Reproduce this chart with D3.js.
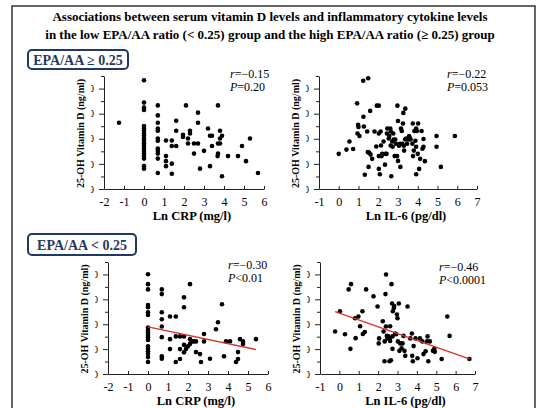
<!DOCTYPE html>
<html>
<head>
<meta charset="utf-8">
<script src="https://cdnjs.cloudflare.com/ajax/libs/d3/7.8.5/d3.min.js"></script>
<style>
    body { margin: 0; background: #fff; }
    svg { display: block; font-family: "Liberation Serif", "Times New Roman", serif; }
</style>
</head>
<body>
<div id="chart"></div>
<script>
// chart texts
const titleLines = [
    "Associations between serum vitamin D levels and inflammatory cytokine levels",
    "in the low EPA/AA ratio (< 0.25) group and the high EPA/AA ratio (\u2265 0.25) group"
];
const groupLabels = ["EPA/AA \u2265 0.25", "EPA/AA < 0.25"];
const yTitle = "25-OH Vitamin D (ng/ml)";
const xTitles = ["Ln CRP (mg/l)", "Ln IL-6 (pg/dl)"];

// axes
const crpTicks = [-2, -1, 0, 1, 2, 3, 4, 5, 6];
const il6Ticks = [-1, 0, 1, 2, 3, 4, 5, 6, 7];
const yMajorTicks = [0, 10, 20, 30, 40];
const yMinorTicks = [5, 15, 25, 35, 45];
const yMax = 45;

// statistics [r, P]
const statsHighCrp = ["\u22120.15", "=0.20"];
const statsHighIl6 = ["\u22120.22", "=0.053"];
const statsLowCrp = ["\u22120.30", "<0.01"];
const statsLowIl6 = ["\u22120.46", "<0.0001"];

// regression fits [intercept, slope] (only drawn for the low group)
const fitLowCrp = [18.9, -1.68];
const fitLowIl6 = [24.5, -2.74];

// EPA/AA >= 0.25, Ln CRP vs vitamin D
const highCrp = [
    [-1.25, 26.4],
    [0, 43.3], [0, 34.4], [0, 32.4], [0, 31.5], [0, 25.1], [0, 24.1], [0, 23.2], [0, 22.1], [0, 21.2],
    [0, 20.1], [0, 19.2], [0, 18.1], [0, 17.2], [0, 16.1], [0, 15.2], [0, 14.1], [0, 13.2], [0, 12.1],
    [0, 9.1], [0, 8.1],
    [0.69, 33.3], [0.69, 29.3], [0.69, 26.4], [0.69, 24.1], [0.69, 23.2], [0.69, 20.1], [0.69, 19.2],
    [0.69, 16.1], [0.69, 15.2], [0.69, 14.1], [0.69, 12.1], [0.69, 6.4],
    [1.1, 19.3], [1.1, 13.1], [1.1, 11.1], [1.1, 9.1],
    [1.39, 19.3], [1.39, 17.1], [1.39, 10.1], [1.39, 6.1],
    [1.61, 27.2], [1.61, 23.2], [1.61, 17.1],
    [1.95, 21.6], [1.95, 20.7], [2.1, 33.3], [2.2, 20.1], [2.2, 18.1], [2.3, 23.2], [2.3, 22.1],
    [2.5, 18.1], [2.5, 14.1], [2.7, 30.4], [2.7, 26.4], [2.7, 18.1], [2.8, 8.1], [3.0, 15.2],
    [3.2, 24.1], [3.3, 21.2], [3.3, 9.1], [3.4, 21.2], [3.4, 17.1], [3.7, 33.3], [3.7, 18.1],
    [3.7, 14.1], [3.68, 13.1], [3.8, 23.2], [3.8, 20.1], [3.8, 18.1], [3.9, 21.2], [3.9, 5.1],
    [4.2, 13.1], [4.7, 13.1], [4.9, 17.1], [5.1, 11.1], [5.3, 20.1], [5.7, 6.4]
];

// EPA/AA >= 0.25, Ln IL-6 vs vitamin D
const highIl6 = [
    [0, 14], [0.39, 15.7], [0.54, 18.9], [0.73, 15.9], [0.93, 34.1], [0.95, 22.1], [0.98, 25.6],
    [1.0, 24.7], [1.05, 21.1], [1.24, 43.1], [1.25, 28.8], [1.27, 24.9], [1.32, 5.7], [1.44, 22.9],
    [1.47, 14.7], [1.49, 44.1], [1.51, 8.8], [1.54, 14.4], [1.59, 31.1], [1.61, 13.7], [1.69, 12],
    [1.81, 22.9], [1.9, 16.9], [1.93, 33.2], [2.03, 33.2], [2.03, 22.1], [2.03, 13.1], [2.03, 8],
    [2.08, 5.9], [2.12, 22.9], [2.14, 17.3], [2.17, 13.1], [2.2, 14], [2.27, 18.9], [2.34, 9.7],
    [2.36, 14], [2.42, 14], [2.44, 22.1], [2.46, 24.1], [2.53, 20.1], [2.56, 21.1], [2.61, 24.1],
    [2.63, 17.3], [2.64, 22.9], [2.66, 5.1], [2.71, 18.9], [2.73, 16.8], [2.76, 22.1], [2.78, 19.7],
    [2.83, 13.1], [2.86, 19.7], [2.9, 18], [2.95, 13.1], [2.97, 33.2], [3.0, 27.1], [3.0, 11.2],
    [3.05, 17.2], [3.1, 18], [3.12, 8.8], [3.15, 24.1], [3.19, 23.1], [3.22, 18], [3.25, 26.1],
    [3.27, 30.3], [3.29, 17.2], [3.31, 15.3], [3.36, 19.7], [3.37, 32], [3.41, 20.1], [3.46, 18],
    [3.51, 19.7], [3.56, 21.1], [3.59, 20.5], [3.64, 19.7], [3.73, 18], [3.75, 26.1], [3.76, 13.1],
    [3.8, 15.3], [3.83, 23.1], [3.88, 19.2], [3.92, 24.1], [3.92, 16.8], [3.92, 5.9], [3.95, 23.1],
    [4.0, 14], [4.02, 26.1], [4.07, 8], [4.12, 12], [4.19, 23.1], [4.24, 16], [4.29, 19.9],
    [4.29, 16.8], [4.36, 11.1], [4.95, 21.1], [4.95, 16.8], [5.17, 8.8], [5.88, 21.1]
];

// EPA/AA < 0.25, Ln CRP vs vitamin D
const lowCrp = [
    [0, 40.1], [0, 36.1], [0, 34], [0, 27.7], [0, 26.8], [0, 24.8], [0, 23.7], [0, 18.7], [0, 17.7],
    [0, 16.8], [0, 15.7], [0, 14.8], [0, 13.7], [0, 11.1], [0, 10.1], [0, 9.1], [0, 8.1], [0, 6.8],
    [0, 4.8],
    [0.69, 34], [0.69, 32.1], [0.69, 24.8], [0.69, 22], [0.69, 19.1], [0.69, 14.8], [0.69, 7.1],
    [0.69, 6.1],
    [1.1, 23.1], [1.1, 14], [1.1, 10], [1.39, 23.1], [1.39, 15.1], [1.39, 4.8],
    [1.6, 15.1], [1.6, 10], [1.6, 6], [1.8, 30.8], [1.8, 26.8], [1.8, 15.1], [1.8, 11.7], [1.8, 8.7],
    [1.9, 10], [2.0, 11.1], [2.1, 36.1], [2.1, 14], [2.1, 12.1], [2.2, 13.1], [2.3, 13.1],
    [2.4, 13.1], [2.4, 8.8], [2.6, 8], [2.65, 4.8], [2.8, 16.1], [2.8, 13.1], [3.1, 6.1],
    [3.4, 18], [3.5, 20.8], [3.7, 28], [3.8, 7.1], [3.9, 13.1], [4.1, 13.1], [4.4, 4.8],
    [4.5, 8.8], [4.5, 6], [4.6, 14], [4.75, 13.1], [4.75, 12.1], [5.4, 14]
];

// EPA/AA < 0.25, Ln IL-6 vs vitamin D
const lowIl6 = [
    [-0.22, 17.1], [0.03, 25.2], [0.29, 16], [0.48, 34], [0.57, 10.1], [0.6, 36.1], [0.81, 22.4],
    [0.84, 14.4], [0.98, 23.1], [1.07, 19.2], [1.19, 25.2], [1.21, 16.1], [1.31, 16.9], [1.38, 34],
    [1.76, 31.2], [1.97, 27.1], [2.03, 12.3], [2.05, 14.3], [2.24, 21.2], [2.28, 17.1], [2.33, 5.1],
    [2.34, 13.1], [2.38, 32.1], [2.4, 19.1], [2.41, 40], [2.45, 15.3], [2.48, 14.3], [2.53, 15.1],
    [2.59, 5.1], [2.59, 14.3], [2.62, 13.3], [2.62, 19.2], [2.66, 5.5], [2.69, 36.1], [2.72, 28.3],
    [2.74, 15.1], [2.74, 10.1], [2.76, 25.2], [2.81, 26.5], [2.83, 27.3], [2.88, 16.3], [2.93, 16],
    [2.97, 23.9], [3.0, 22.4], [3.02, 13.1], [3.07, 28.3], [3.1, 9.3], [3.14, 12.3], [3.21, 10.3],
    [3.26, 12.3], [3.31, 15.3], [3.36, 9.3], [3.4, 7.3], [3.52, 27.1], [3.66, 14.3], [3.74, 16.3],
    [3.76, 7.3], [3.79, 5.1], [3.83, 11.2], [3.93, 14.3], [4.03, 6.3], [4.16, 14.3], [4.28, 13.1],
    [4.34, 8], [4.45, 9.1], [4.52, 13.1], [4.55, 15.1], [4.59, 5.1], [4.67, 13.1], [4.83, 9.3],
    [4.9, 10.1], [4.93, 8.9], [5.28, 6], [5.57, 23.1], [5.69, 15.3], [6.71, 6]
];

const width = 549, height = 408;
const navy = "#1f3864";

let svg = d3.select("#chart").append("svg")
    .attr("width", width)
    .attr("height", height);

svg.append("rect").attr("width", width).attr("height", height).attr("fill", "#fff");

// outer frame
svg.append("rect")
    .attr("x", 12).attr("y", 6)
    .attr("width", 523).attr("height", 420)
    .attr("fill", "none")
    .attr("stroke", "#333")
    .attr("stroke-width", 1.5);

// title
svg.selectAll(".title")
    .data(titleLines)
    .enter().append("text")
    .attr("class", "title")
    .attr("x", 270)
    .attr("y", (d, i) => 21 + i * 18)
    .attr("text-anchor", "middle")
    .style("font-weight", "bold")
    .style("font-size", "13px")
    .text(d => d);

// group boxes
let boxes = [
    { label: groupLabels[0], x: 28, y: 50, w: 100, h: 19 },
    { label: groupLabels[1], x: 28, y: 234, w: 108, h: 21 }
];
boxes.forEach(b => {
    svg.append("rect")
        .attr("x", b.x).attr("y", b.y)
        .attr("width", b.w).attr("height", b.h)
        .attr("rx", 4)
        .attr("fill", "#fff")
        .attr("stroke", navy)
        .attr("stroke-width", 2);
    svg.append("text")
        .attr("x", b.x + b.w / 2)
        .attr("y", b.y + b.h / 2 + 5)
        .attr("text-anchor", "middle")
        .style("font-weight", "bold")
        .style("font-size", "14px")
        .style("fill", navy)
        .text(b.label);
});

class ScatterPanel {
    constructor(svg, config) {
        this.svg = svg;
        this.config = config;
        this.initVis();
    }

    initVis() {
        let vis = this;
        let c = vis.config;

        vis.x = d3.scaleLinear().domain(d3.extent(c.xTicks)).range([c.left, c.right]);
        vis.y = d3.scaleLinear().domain([0, yMax]).range([c.bottom, c.top]);

        vis.g = vis.svg.append("g");

        // y axis, major + minor ticks
        let yAxis = vis.g.append("g")
            .attr("transform", "translate(" + c.left + ",0)")
            .call(d3.axisLeft(vis.y).tickValues(yMajorTicks).tickSizeInner(5).tickSizeOuter(0).tickPadding(5));

        yAxis.selectAll("text")
            .attr("clip-path", "url(#tickclip)")
            .style("font-size", "10px")
            .style("font-family", "Liberation Serif");

        vis.g.append("g")
            .attr("transform", "translate(" + c.left + ",0)")
            .call(d3.axisLeft(vis.y).tickValues(yMinorTicks).tickSizeInner(3).tickSizeOuter(0).tickFormat(""))
            .select(".domain").remove();

        // x axis, ticks pointing inward
        let xAxis = vis.g.append("g")
            .attr("transform", "translate(0," + c.bottom + ")")
            .call(d3.axisBottom(vis.x).tickValues(c.xTicks).tickSizeInner(-3).tickSizeOuter(0).tickPadding(8)
                .tickFormat(d => String(d)));

        xAxis.selectAll("text")
            .style("font-size", "12px")
            .style("font-family", "Liberation Serif");

        vis.g.selectAll(".domain, .tick line").attr("stroke", "#222");

        // axis titles
        vis.g.append("text")
            .attr("x", (c.left + c.right) / 2 + 8)
            .attr("y", c.bottom + 31)
            .attr("text-anchor", "middle")
            .style("font-weight", "bold")
            .style("font-size", "12.5px")
            .text(c.xTitle);

        vis.g.append("text")
            .attr("transform", "translate(" + (c.left - 20) + "," + ((c.top + c.bottom) / 2 + 1) + ") rotate(-90)")
            .attr("text-anchor", "middle")
            .style("font-weight", "bold")
            .style("font-size", "10px")
            .text(yTitle);

        // r and P
        let stat = vis.g.append("g").style("font-size", "12px");
        let rText = stat.append("text").attr("x", c.statX).attr("y", c.statY);
        rText.append("tspan").style("font-style", "italic").text("r");
        rText.append("tspan").text("=" + c.stats[0]);
        let pText = stat.append("text").attr("x", c.statX).attr("y", c.statY + 13);
        pText.append("tspan").style("font-style", "italic").text("P");
        pText.append("tspan").text(c.stats[1]);

        vis.updateVis();
    }

    updateVis() {
        let vis = this;
        let c = vis.config;

        vis.g.append("g")
            .selectAll("circle")
            .data(c.data)
            .enter().append("circle")
            .attr("cx", d => vis.x(d[0]))
            .attr("cy", d => vis.y(d[1]))
            .attr("r", 2.3)
            .attr("fill", "#000");

        if (c.fit) {
            let ext = d3.extent(c.data, d => d[0]);
            let line = d3.line()
                .x(d => vis.x(d))
                .y(d => vis.y(c.fit[0] + c.fit[1] * d));
            vis.g.append("path")
                .datum(ext)
                .attr("d", line)
                .attr("fill", "none")
                .attr("stroke", "#d9312b")
                .attr("stroke-width", 1.3);
        }
    }
}

// clip that leaves only the right edge of the y tick labels
svg.append("defs").append("clipPath")
    .attr("id", "tickclip")
    .append("rect")
    .attr("x", -13).attr("y", -10)
    .attr("width", 3.5).attr("height", 20);

new ScatterPanel(svg, { data: highCrp, xTicks: crpTicks, xTitle: xTitles[0], stats: statsHighCrp,
    left: 104, right: 264, top: 76, bottom: 189, statX: 230, statY: 78 });
new ScatterPanel(svg, { data: highIl6, xTicks: il6Ticks, xTitle: xTitles[1], stats: statsHighIl6,
    left: 319, right: 477, top: 76, bottom: 189, statX: 447, statY: 78 });
new ScatterPanel(svg, { data: lowCrp, xTicks: crpTicks, xTitle: xTitles[0], stats: statsLowCrp, fit: fitLowCrp,
    left: 108, right: 268, top: 262, bottom: 374, statX: 228, statY: 269 });
new ScatterPanel(svg, { data: lowIl6, xTicks: il6Ticks, xTitle: xTitles[1], stats: statsLowIl6, fit: fitLowIl6,
    left: 320, right: 475, top: 262, bottom: 374, statX: 439, statY: 271 });
</script>
</body>
</html>
